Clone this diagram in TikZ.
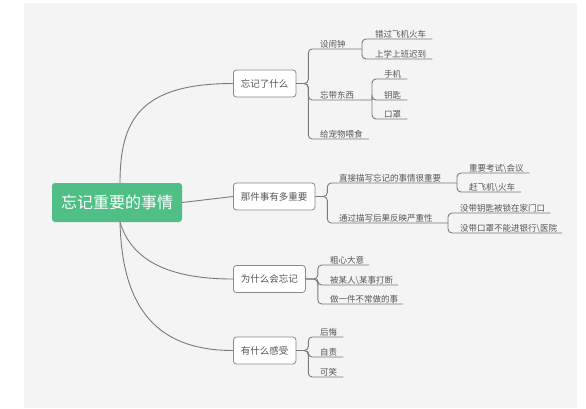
\documentclass[tikz,border=0pt]{standalone}
\usepackage{fontspec}
\newfontfamily\cjk{Noto Sans CJK SC}
\definecolor{panel}{HTML}{F4F4F4}
\definecolor{linec}{HTML}{7A7A7A}
\definecolor{txt}{HTML}{555555}
\definecolor{rootg}{HTML}{4FBF86}
\definecolor{boxb}{HTML}{8A8A8A}
\begin{document}
\begin{tikzpicture}[x=1bp,y=-1bp,
  ln/.style={draw=linec, line width=0.9bp, rounded corners=4bp},
  root/.style={fill=rootg, text=white, rounded corners=3bp, minimum width=130bp, minimum height=39bp, inner sep=0pt, font=\cjk\fontsize{16bp}{18bp}\selectfont},
  box/.style={draw=boxb, line width=0.8bp, fill=white, text=txt, rounded corners=3bp, minimum height=27bp, inner xsep=7.5bp, inner ysep=0pt, anchor=west, font=\cjk\fontsize{9.5bp}{11bp}\selectfont},
  tp/.style={anchor=base west, inner sep=0pt, text=txt, font=\cjk\fontsize{8.5bp}{10bp}\selectfont}]
\useasboundingbox (0,0) rectangle (586,408);
\fill[white] (0,0) rectangle (586,408);
\fill[panel] (24,3) rectangle (577,408);

% root and main topics
\node[root] (r) at (117,202.5) {忘记重要的事情};
\node[box] (a) at (233,83.5) {忘记了什么};
\node[box] (b) at (233,196.5) {那件事有多重要};
\node[box] (c) at (233,279) {为什么会忘记};
\node[box] (d) at (233,350.5) {有什么感受};

\draw[ln] ([xshift=3bp]r.north) .. controls (120,120) and (140,83.5) .. (a.west);
\draw[ln] (r.east) -- (b.west);
\draw[ln] ([xshift=3bp]r.south) .. controls (130,255) and (160,279) .. (c.west);
\draw[ln] ([xshift=3bp]r.south) .. controls (122,300) and (150,350.5) .. (d.west);

% branch A
\node[tp] (a1) at (320,47) {设闹钟};
\node[tp] (a2) at (320,98) {忘带东西};
\node[tp] (a3) at (320,137) {给宠物喂食};
\node[tp] (a1a) at (375,37) {错过飞机火车};
\node[tp] (a1b) at (375,57) {上学上班迟到};
\node[tp] (a2a) at (384,77) {手机};
\node[tp] (a2b) at (384,98) {钥匙};
\node[tp] (a2c) at (384,117) {口罩};
\coordinate (a1e) at (362,49);
\coordinate (a2e) at (372,100);
\draw[ln] (a.east) -- ++(12,0) |- ([yshift=-2bp]a1.base west) -- (a1e);
\draw[ln] (a.east) -- ++(12,0) |- ([yshift=-2bp]a2.base west) -- (a2e);
\draw[ln] (a.east) -- ++(12,0) |- ([yshift=-2bp]a3.base west) -- ([xshift=6bp,yshift=-2bp]a3.base east);
\draw[ln] (a1e) |- ([yshift=-2bp]a1a.base west) -- ([xshift=6bp,yshift=-2bp]a1a.base east);
\draw[ln] (a1e) |- ([yshift=-2bp]a1b.base west) -- ([xshift=6bp,yshift=-2bp]a1b.base east);
\draw[ln] (a2e) |- ([yshift=-2bp]a2a.base west) -- ([xshift=6bp,yshift=-2bp]a2a.base east);
\draw[ln] (a2e) |- ([yshift=-2bp]a2b.base west) -- ([xshift=6bp,yshift=-2bp]a2b.base east);
\draw[ln] (a2e) |- ([yshift=-2bp]a2c.base west) -- ([xshift=6bp,yshift=-2bp]a2c.base east);

% branch B
\node[tp] (b1) at (339,181) {直接描写忘记的事情很重要};
\node[tp] (b2) at (339,221) {通过描写后果反映严重性};
\node[tp] (b1a) at (469,171) {重要考试\textbackslash 会议};
\node[tp] (b1b) at (469,190) {赶飞机\textbackslash 火车};
\node[tp] (b2a) at (460,211) {没带钥匙被锁在家门口};
\node[tp] (b2b) at (460,231) {没带口罩不能进银行\textbackslash 医院};
\coordinate (b1e) at (457,183);
\coordinate (b2e) at (448,223);
\draw[ln] (b.east) -- ++(12,0) |- ([yshift=-2bp]b1.base west) -- (b1e);
\draw[ln] (b.east) -- ++(12,0) |- ([yshift=-2bp]b2.base west) -- (b2e);
\draw[ln] (b1e) |- ([yshift=-2bp]b1a.base west) -- ([xshift=6bp,yshift=-2bp]b1a.base east);
\draw[ln] (b1e) |- ([yshift=-2bp]b1b.base west) -- ([xshift=6bp,yshift=-2bp]b1b.base east);
\draw[ln] (b2e) |- ([yshift=-2bp]b2a.base west) -- ([xshift=5bp,yshift=-2bp]b2a.base east);
\draw[ln] (b2e) |- ([yshift=-2bp]b2b.base west) -- ([xshift=5bp,yshift=-2bp]b2b.base east);

% branch C
\node[tp] (c1) at (330,263) {粗心大意};
\node[tp] (c2) at (330,283) {被某人\textbackslash 某事打断};
\node[tp] (c3) at (330,302) {做一件不常做的事};
\draw[ln] (c.east) -- ++(12,0) |- ([yshift=-2bp]c1.base west) -- ([xshift=5bp,yshift=-2bp]c1.base east);
\draw[ln] (c.east) -- ++(12,0) |- ([yshift=-2bp]c2.base west) -- ([xshift=5bp,yshift=-2bp]c2.base east);
\draw[ln] (c.east) -- ++(12,0) |- ([yshift=-2bp]c3.base west) -- ([xshift=5bp,yshift=-2bp]c3.base east);

% branch D
\node[tp] (d1) at (320,335) {后悔};
\node[tp] (d2) at (320,355) {自责};
\node[tp] (d3) at (320,375) {可笑};
\draw[ln] (d.east) -- ++(12,0) |- ([yshift=-2bp]d1.base west) -- ([xshift=6bp,yshift=-2bp]d1.base east);
\draw[ln] (d.east) -- ++(12,0) |- ([yshift=-2bp]d2.base west) -- ([xshift=6bp,yshift=-2bp]d2.base east);
\draw[ln] (d.east) -- ++(12,0) |- ([yshift=-2bp]d3.base west) -- ([xshift=6bp,yshift=-2bp]d3.base east);
\end{tikzpicture}
\end{document}
